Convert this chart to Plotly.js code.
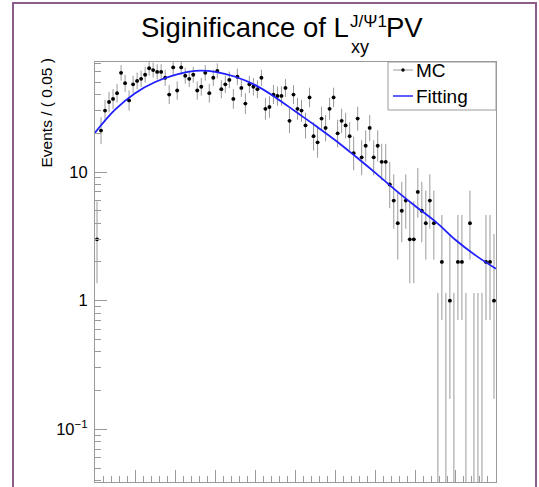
<!DOCTYPE html>
<html><head><meta charset="utf-8">
<script src="https://cdn.plot.ly/plotly-3.0.1.min.js"></script>
<style>html,body{margin:0;padding:0;background:#fff;} #chart{width:539px;height:487px;}</style>
</head><body><div id="chart"></div>
<script>
// ---- data ----
const xMin = 0, xMax = 5, binWidth = 0.05;
const counts = [3,21,30,35,37,41,59,49,36,48,
  51,53,57,64,62,60,60,54,40,65,
  43,65,56,53,57,43,46,59,41,54,
  61,44,48,52,37,55,45,34,48,46,
  44,54,31,32,40,39,39,45,25,40,
  31,30,23,38,19,17,26,22,31,38,
  20,25,23,19,14,26,13,16,22,13,
  16,12,12,8,6,4,5,6,3,3,
  7,5,4,6,4,0,2,0,1,0,
  2,2,0,4,0,0,0,2,2,1];
const fitX = [0,0.25,0.5,0.75,1,1.25,1.5,1.75,2,2.25,2.5,2.75,3,3.25,3.5,3.75,4,4.25,4.5,4.75,5];
const fitY = [20.2,30.5,41.0,50.1,56.9,61.1,60.1,55.0,47.3,38.0,29.5,22.9,17.6,13.2,9.8,7.2,5.4,4.1,2.95,2.24,1.77];
const xTickVals = [0,0.5,1,1.5,2,2.5,3,3.5,4,4.5,5];
const xTickText = ['0','0.5','1','1.5','2','2.5','3','3.5','4','4.5','5'];
const yTickVals = [0.1,1,10];
const yTickText = ['10<sup>−1</sup>','1','10'];
const yMinorVals = [0.04,0.05,0.06,0.07,0.08,0.09,0.2,0.3,0.4,0.5,0.6,0.7,0.8,0.9,2,3,4,5,6,7,8,9,20,30,40,50,60,70];
const yRange = [0.039, 71.6];
const legendLabels = ['MC','Fitting'];
const titleMain = 'Siginificance of L', titleSup = 'J/Ψ1', titleSub = 'xy', titleEnd = 'PV';
const yTitle = 'Events / ( 0.05 )';

// ---- Poisson 68% central intervals (RooFit style) ----
function poisCdf(n, mu){ let t=Math.exp(-mu), s=t; for(let k=1;k<=n;k++){ t*=mu/k; s+=t; } return s; }
function poisInterval(n){
  const cl = 0.682689, a = (1-cl)/2;
  if(n===0) return [0, -Math.log(1-cl)];
  let lo=n, hi=n+10*Math.sqrt(n)+10;
  for(let i=0;i<80;i++){ const m=(lo+hi)/2; if(poisCdf(n,m)>a) lo=m; else hi=m; }
  const U=(lo+hi)/2;
  lo=0; hi=n;
  for(let i=0;i<80;i++){ const m=(lo+hi)/2; if(poisCdf(n-1,m)>1-a) lo=m; else hi=m; }
  const L=(lo+hi)/2;
  return [L,U];
}

const px=[],py=[],eUp=[],eDn=[], zx=[], zy=[];
counts.forEach((n,i)=>{
  const xc = xMin + (i+0.5)*binWidth;
  const iv = poisInterval(n);
  if(n>0){ px.push(xc); py.push(n); eUp.push(iv[1]-n); eDn.push(n-iv[0]); }
  else { zx.push(xc,xc,null); zy.push(0.001, iv[1], null); }
});

const barCol = '#9a9a9a';
const traces = [
  {x:zx, y:zy, mode:'lines', line:{color:barCol,width:1}, hoverinfo:'skip', showlegend:false},
  {x:px, y:py, mode:'markers', marker:{color:'#000',size:3.8},
   error_y:{type:'data',symmetric:false,array:eUp,arrayminus:eDn,color:barCol,thickness:1,width:0},
   error_x:{type:'constant',value:binWidth/2,color:barCol,thickness:1,width:0},
   name:legendLabels[0], showlegend:false},
  {x:fitX, y:fitY, mode:'lines', line:{color:'#2020ff',width:1.8,shape:'spline',smoothing:1}, name:legendLabels[1], showlegend:false}
];

// pixel -> paper helpers (plot area 95..496 x, 62..482 y)
const L0=95, R0=496, T0=62, B0=482;
const PX = v => (v-L0)/(R0-L0);
const PY = v => (B0-v)/(B0-T0);

const xMinor=[]; for(let k=1;k<50;k++){ if(k%5!==0) xMinor.push(k/10); }
const fam = '"Liberation Sans", Arial, Helvetica, sans-serif';
const axCommon = {showline:true, linecolor:barCol, linewidth:1, mirror:true, ticks:'inside', tickcolor:barCol,
  ticklen:12, tickwidth:1, showgrid:false, zeroline:false, tickfont:{family:fam,size:16.5,color:'#000'}};

const layout = {
  width:539, height:487, autosize:false,
  margin:{l:L0, r:539-R0, t:T0, b:487-B0},
  paper_bgcolor:'#fff', plot_bgcolor:'#fff', showlegend:false,
  font:{family:fam, color:'#000'},
  xaxis:Object.assign({}, axCommon, {range:[xMin,xMax], tickmode:'array', tickvals:xTickVals, ticktext:xTickText,
    minor:{tickmode:'array', tickvals:xMinor, ticks:'inside', ticklen:6, tickcolor:barCol, tickwidth:1, showgrid:false}}),
  yaxis:Object.assign({}, axCommon, {type:'log', range:[Math.log10(yRange[0]),Math.log10(yRange[1])],
    tickmode:'array', tickvals:yTickVals, ticktext:yTickText, ticklabelstandoff:3,
    minor:{tickmode:'array', tickvals:yMinorVals, ticks:'inside', ticklen:6, tickcolor:barCol, tickwidth:1, showgrid:false}}),
  shapes:[
    {type:'rect', xref:'paper', yref:'paper', x0:PX(13), x1:PX(536), y0:PY(600), y1:PY(3), line:{color:'#8c5c8c',width:2}, fillcolor:'rgba(0,0,0,0)', layer:'below'},
    {type:'rect', xref:'paper', yref:'paper', x0:PX(388), x1:PX(496), y0:PY(110), y1:PY(62), line:{color:barCol,width:1}, fillcolor:'#fff', layer:'above'},
    {type:'line', xref:'paper', yref:'paper', x0:PX(393), x1:PX(413), y0:PY(70), y1:PY(70), line:{color:barCol,width:1}},
    {type:'circle', xref:'paper', yref:'paper', x0:PX(401.3), x1:PX(404.7), y0:PY(71.7), y1:PY(68.3), line:{color:'#000',width:0}, fillcolor:'#000'},
    {type:'line', xref:'paper', yref:'paper', x0:PX(393), x1:PX(413), y0:PY(96), y1:PY(96), line:{color:'#6060ff',width:2}}
  ],
  annotations:[
    {text:titleMain, xref:'paper', yref:'paper', x:PX(139), y:PY(27.5), xanchor:'left', yanchor:'middle', showarrow:false, font:{size:27.5,family:fam}},
    {text:titleSup, xref:'paper', yref:'paper', x:PX(348), y:PY(21.5), xanchor:'left', yanchor:'middle', showarrow:false, font:{size:17,family:fam}},
    {text:titleSub, xref:'paper', yref:'paper', x:PX(349), y:PY(47), xanchor:'left', yanchor:'middle', showarrow:false, font:{size:18,family:fam}},
    {text:titleEnd, xref:'paper', yref:'paper', x:PX(384), y:PY(27.5), xanchor:'left', yanchor:'middle', showarrow:false, font:{size:27.5,family:fam}},
    {text:yTitle, xref:'paper', yref:'paper', x:PX(46), y:PY(57), xanchor:'center', yanchor:'top', textangle:-90, showarrow:false, font:{size:15.5,family:fam}},
    {text:legendLabels[0], xref:'paper', yref:'paper', x:PX(414), y:PY(70), xanchor:'left', yanchor:'middle', showarrow:false, font:{size:19,family:fam}},
    {text:legendLabels[1], xref:'paper', yref:'paper', x:PX(414), y:PY(96), xanchor:'left', yanchor:'middle', showarrow:false, font:{size:19,family:fam}}
  ]
};
Plotly.newPlot('chart', traces, layout, {staticPlot:true, displayModeBar:false});
</script></body></html>
